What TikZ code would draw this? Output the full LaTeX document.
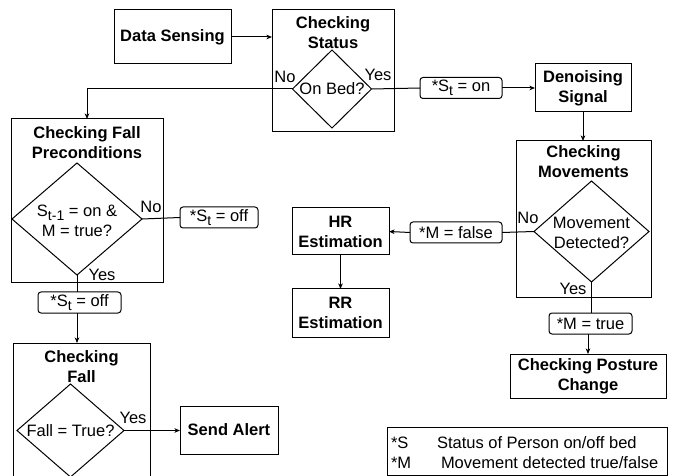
\documentclass[tikz,border=0pt]{standalone}
\usepackage{fontspec}
\setmainfont{Liberation Sans}
\usetikzlibrary{arrows.meta,shapes.geometric}

% lowered, smaller subscript in the text font
\newcommand{\lsub}[1]{\raisebox{-0.4ex}{\fontsize{14}{14}\selectfont #1}}

\begin{document}
\begin{tikzpicture}[x=1pt,y=-1pt,
  line width=1pt,
  every node/.style={inner sep=0pt, outer sep=0pt, font=\fontsize{16.5}{20}\selectfont},
  box/.style={draw, line width=1pt, align=center, font=\bfseries\fontsize{16.5}{20}\selectfont},
  frame/.style={draw, line width=1pt},
  title/.style={align=center, font=\bfseries\fontsize{16.5}{20}\selectfont},
  decide/.style={draw, diamond, line width=1pt, inner sep=0pt},
  plain/.style={align=center},
  tag/.style={draw, rounded corners=3pt, line width=1pt, minimum height=21pt, align=center},
  arr/.style={-{Stealth[length=5.5pt,width=4.5pt,inset=1.5pt]}},
]
\useasboundingbox (0,0) rectangle (673,476);
\clip (0,0) rectangle (673,476);

% ---- top row
\node[box, minimum width=117pt, minimum height=54pt] (sense) at (172.5,37) {Data Sensing};

\node[frame, minimum width=122pt, minimum height=122pt] (status) at (333,71) {};
\node[title] (statusT) at (333,33) {Checking\\Status};
\node[decide, minimum width=79pt, minimum height=78pt] (statusD) at (332,89) {};
\node[plain] (statusQ) at (332,89) {On Bed?};
\node[plain] (statusNo) at (285,77) {No};
\node[plain] (statusYes) at (378,75) {Yes};

\node[tag, minimum width=82pt] (son) at (461,88) {*S\lsub{t} = on};
\node[box, minimum width=96pt, minimum height=48pt] (denoise) at (583,88) {Denoising\\Signal};

% ---- movement check (right)
\node[frame, minimum width=135pt, minimum height=157pt] (move) at (583.5,219.5) {};
\node[title] (moveT) at (583.5,162) {Checking\\Movements};
\node[decide, minimum width=115pt, minimum height=101pt] (moveD) at (591.5,231.5) {};
\node[plain] (moveQ) at (591.5,233) {Movement\\Detected?};
\node[plain] (moveNo) at (528,218) {No};
\node[plain] (moveYes) at (573,289) {Yes};

\node[tag, minimum width=83pt] (mtrue) at (590.5,323.5) {*M = true};
\node[box, minimum width=156pt, minimum height=44pt] (posture) at (588,376) {Checking Posture\\Change};

\node[tag, minimum width=92pt] (mfalse) at (456,232.5) {*M = false};
\node[box, minimum width=97pt, minimum height=47pt] (hr) at (340.5,231.5) {HR\\Estimation};
\node[box, minimum width=97pt, minimum height=48pt] (rr) at (340.5,313) {RR\\Estimation};

% ---- fall preconditions (left)
\node[frame, minimum width=152pt, minimum height=164pt] (pre) at (87,201) {};
\node[title] (preT) at (87,143) {Checking Fall\\Preconditions};
\node[decide, minimum width=130pt, minimum height=112pt] (preD) at (77,219) {};
\node[plain] (preQ) at (77,221) {S\lsub{t-1} = on \&\\M = true?};
\node[plain] (preNo) at (151,207) {No};
\node[plain] (preYes) at (102,275) {Yes};

\node[tag, minimum width=78pt] (soffA) at (219,217.5) {*S\lsub{t} = off};
\node[tag, minimum width=83pt] (soffB) at (79.5,302.5) {*S\lsub{t} = off};

% ---- fall check (bottom left)
\node[frame, minimum width=137pt, minimum height=147pt] (fall) at (81.5,416.5) {};
\node[title] (fallT) at (81.5,367) {Checking\\Fall};
\node[decide, minimum width=107pt, minimum height=93pt] (fallD) at (70.5,430.5) {};
\node[plain] (fallQ) at (70.5,431) {Fall = True?};
\node[plain] (fallYes) at (133,418) {Yes};
\node[box, minimum width=98pt, minimum height=48pt] (alert) at (229,430) {Send Alert};

% ---- legend
\node[frame, minimum width=280pt, minimum height=48pt] (legend) at (527,451) {};
\node[anchor=west] (legS) at (391,443) {*S};
\node[anchor=west] (legSt) at (437,443) {Status of Person on/off bed};
\node[anchor=west] (legM) at (391,463) {*M};
\node[anchor=west] (legMt) at (441,463) {Movement detected true/false};

% ---- connectors
\draw[arr] (sense.east) -- (sense.east -| status.west);
\draw[arr] (statusD.west) -| (pre.north);
\draw (statusD.east) -- (son.west);
\draw[arr] (son.east) -- (denoise.west);
\draw[arr] (denoise.south) -- (denoise.south |- move.north);

\draw (moveD.west) -- (mfalse.east);
\draw[arr] (mfalse.west) -- (hr.east);
\draw[arr] (hr.south) -- (rr.north);
\draw (moveD.south) -- (moveD.south |- mtrue.north);
\draw[arr] (posture.north |- mtrue.south) -- (posture.north);

\draw (preD.east) -- (soffA.west);
\draw (preD.south) -- (preD.south |- soffB.north);
\draw[arr] (preD.south |- soffB.south) -- (preD.south |- fall.north);
\draw[arr] (fallD.east) -- (fallD.east -| alert.west);
\end{tikzpicture}
\end{document}
